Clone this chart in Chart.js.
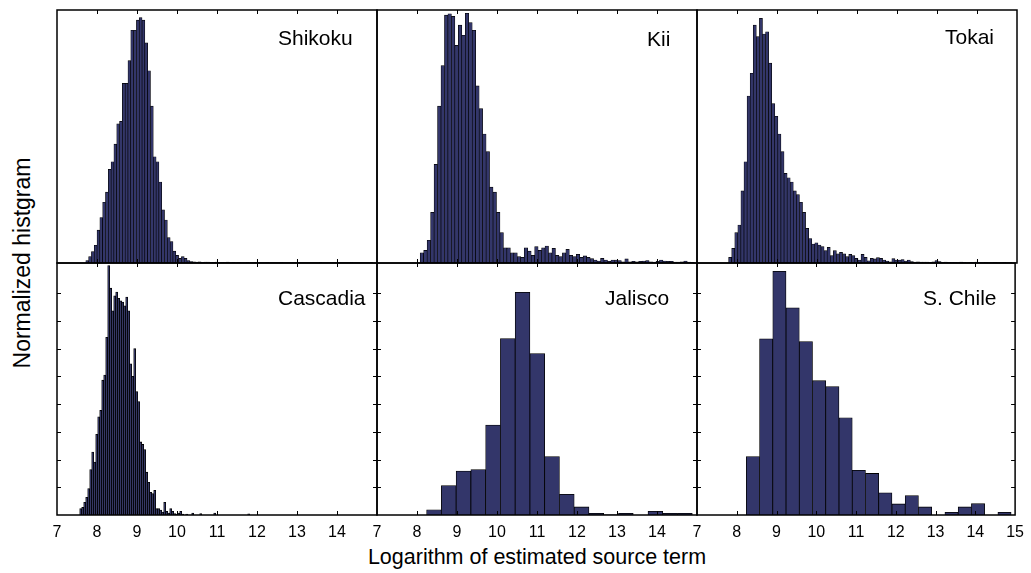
<!DOCTYPE html>
<html>
<head>
<meta charset="utf-8">
<script src="https://cdn.jsdelivr.net/npm/chart.js"></script>
<style>
  html, body { margin: 0; padding: 0; background: #fff; }
  #wrap { position: relative; width: 1031px; height: 573px; overflow: hidden; font-family: "Liberation Sans", Arial, sans-serif; color: #000; }
  #wrap canvas { position: absolute; }
  .name { position: absolute; font-size: 21px; line-height: 21px; white-space: nowrap; }
  #ylab { position: absolute; left: 22px; top: 263px; font-size: 23px; white-space: nowrap; transform: translate(-50%, -50%) rotate(-90deg); }
  #xlab { position: absolute; left: 537px; top: 557px; font-size: 21.5px; white-space: nowrap; transform: translate(-50%, -50%); }
</style>
</head>
<body>
<div id="wrap">
  <div id="ylab">Normalized histgram</div>
  <div id="xlab">Logarithm of estimated source term</div>
</div>
<script>
// panel names, in reading order
const regions = ['Shikoku', 'Kii', 'Tokai', 'Cascadia', 'Jalisco', 'S. Chile'];

// histogram bins: left edge of first bin and bin width (log source term)
const binStart = [7.72, 8.08, 7.79, 7.567, 8.24, 8.24];
const binWidth = [0.0703, 0.0867, 0.077, 0.05, 0.369, 0.333];

// normalized heights
const shikoku = [0.01, 0.025, 0.045, 0.07, 0.13, 0.18, 0.24, 0.28, 0.37, 0.40, 0.47, 0.55, 0.56, 0.71, 0.71,
  0.80, 0.92, 0.92, 0.96, 0.97, 0.96, 0.87, 0.76, 0.62, 0.42, 0.40, 0.32, 0.21, 0.17, 0.10, 0.085, 0.047,
  0.03, 0.018, 0.025, 0.018, 0.01, 0.006,
  0.005, 0.004, 0.005, 0.003, 0.004, 0.004, 0.003, 0.003, 0.004, 0.002, 0.003, 0.003, 0.004, 0.002, 0.003,
  0.002, 0.003, 0.002, 0.002, 0.003, 0.002, 0.002, 0.003, 0.002, 0.002, 0.002, 0.003, 0.002, 0.002, 0.002,
  0.002, 0.003, 0.002, 0.002, 0.002, 0.002, 0.002, 0.003, 0.002, 0.002, 0.002, 0.002, 0.002, 0.002, 0.002,
  0.003, 0.002, 0.002, 0.002, 0.002, 0.002, 0.002, 0.002, 0.002, 0.002, 0.002, 0.003, 0.002, 0.002, 0.002,
  0.002, 0.002, 0.002, 0.002];
const kii = [0.04, 0.05, 0.09, 0.20, 0.39, 0.62, 0.78, 0.98, 0.985, 0.975, 0.86, 0.94, 0.90, 0.987, 0.95,
  0.92, 0.70, 0.61, 0.51, 0.44, 0.30, 0.28, 0.20, 0.12, 0.06, 0.06, 0.04, 0.04, 0.025, 0.022, 0.06, 0.047,
  0.03, 0.065, 0.05, 0.06, 0.067, 0.04, 0.058, 0.03, 0.025, 0.04, 0.054, 0.03,
  0.025, 0.034, 0.022, 0.028, 0.022, 0.017, 0.012, 0.008, 0.018, 0.012, 0.007, 0.012, 0.012, 0.01, 0.005,
  0.016, 0.005, 0.007, 0.005, 0.007, 0.008, 0.01, 0.005, 0.004, 0.007, 0.012, 0.008, 0.007, 0.007, 0.004,
  0.004, 0.005, 0.008, 0.004, 0.003];
const tokai = [0.022, 0.058, 0.12, 0.15, 0.285, 0.40, 0.66, 0.75, 0.94, 0.895, 0.967, 0.905, 0.914, 0.79,
  0.63, 0.58, 0.51, 0.44, 0.354, 0.337, 0.32, 0.285, 0.27, 0.24, 0.20, 0.137, 0.097, 0.075, 0.08, 0.071,
  0.065, 0.049, 0.062, 0.029, 0.049, 0.036, 0.042, 0.036, 0.025, 0.034, 0.029, 0.018, 0.012, 0.034, 0.022,
  0.009, 0.018,
  0.016, 0.021, 0.018, 0.012, 0.008, 0.005, 0.017, 0.012, 0.012, 0.014, 0.008, 0.012, 0.006, 0.004, 0.005,
  0.004, 0.004, 0.004, 0.003, 0.005, 0.01, 0.006, 0.003, 0.004, 0.003, 0.003, 0.003, 0.002, 0.004, 0.003,
  0.002, 0.003, 0.002, 0.004, 0.002, 0.002, 0.003, 0.002, 0.002, 0.003, 0.002, 0.002, 0.003, 0.002, 0.002];
const cascadia = [0.025, 0.03, 0.05, 0.07, 0.105, 0.18, 0.25, 0.21, 0.32, 0.39, 0.415, 0.535, 0.555, 0.705,
  0.99, 0.90, 0.81, 0.87, 0.885, 0.86, 0.85, 0.845, 0.83, 0.865, 0.81, 0.60, 0.55, 0.66, 0.49, 0.45, 0.29,
  0.28, 0.26, 0.17, 0.13, 0.09, 0.085, 0.098, 0.025, 0.025, 0.02, 0.012, 0.05, 0.015, 0.008, 0.025, 0.015,
  0.006, 0.004, 0.008, 0.015, 0.004,
  0, 0.004, 0, 0, 0.008, 0, 0, 0, 0.006, 0, 0, 0, 0, 0, 0, 0.008, 0, 0, 0, 0, 0, 0, 0, 0, 0, 0, 0, 0, 0,
  0, 0, 0, 0.005];
const jalisco = [0.021, 0.117, 0.174, 0.18, 0.357, 0.70, 0.884, 0.641, 0.232, 0.082, 0.032, 0.007, 0.001,
  0.007, 0, 0.015, 0.007, 0.007];
const sChile = [0.232, 0.699, 0.967, 0.822, 0.688, 0.533, 0.51, 0.386, 0.177, 0.165, 0.088, 0.044, 0.077,
  0.032, 0, 0.011, 0.032, 0.045, 0, 0.011];

const hists = [shikoku, kii, tokai, cascadia, jalisco, sChile];
const xMin = 7, xMax = 15;
const yTickStep = 0.11;

// layout of the six frames (px) and where each name sits
const frames = [
  { x: 57, y: 10, w: 320, h: 253 }, { x: 377, y: 10, w: 320, h: 253 }, { x: 697, y: 10, w: 320, h: 253 },
  { x: 57, y: 263, w: 320, h: 252 }, { x: 377, y: 263, w: 320, h: 252 }, { x: 697, y: 263, w: 320, h: 252 }
];
const namePos = [[278, 37], [647, 38], [945, 36], [278, 297], [605, 297], [923, 297]];
const borderW = [0.65, 0.65, 0.65, 0.8, 0.8, 0.8];

const barFill = '#33366a';
const font = '"Liberation Sans", Arial, sans-serif';

// frame box plus inward tick marks, like the original axes
const framePlugin = {
  id: 'frame',
  afterDatasetsDraw(chart, args, opts) {
    const { ctx, chartArea: a, scales: { x, y } } = chart;
    ctx.save();
    ctx.strokeStyle = '#000';
    ctx.lineWidth = 1;
    for (let v = xMin + 1; v < xMax; v++) {
      const px = Math.round(x.getPixelForValue(v)) + 0.5;
      ctx.beginPath();
      ctx.moveTo(px, a.top); ctx.lineTo(px, a.top + 4);
      ctx.moveTo(px, a.bottom); ctx.lineTo(px, a.bottom - 4);
      ctx.stroke();
    }
    if (opts.yTicks) {
      for (let v = yTickStep; v < 0.95; v += yTickStep) {
        const py = Math.round(y.getPixelForValue(v)) + 0.5;
        ctx.beginPath();
        ctx.moveTo(a.left, py); ctx.lineTo(a.left + 4, py);
        ctx.moveTo(a.right, py); ctx.lineTo(a.right - 4, py);
        ctx.stroke();
      }
    }
    ctx.lineWidth = 1.5;
    ctx.strokeRect(a.left, a.top, a.right - a.left, a.bottom - a.top);
    ctx.restore();
  }
};

const wrap = document.getElementById('wrap');

hists.forEach((hist, i) => {
  const f = frames[i];
  const bottomRow = i >= 3;
  const lastCol = i % 3 === 2;
  const padL = 15, padR = 15, padT = 4;
  const padB = bottomRow ? 0 : 4;
  const axisH = bottomRow ? 30 : 0;

  const canvas = document.createElement('canvas');
  canvas.width = f.w + padL + padR;
  canvas.height = f.h + padT + padB + axisH;
  canvas.style.left = (f.x - padL) + 'px';
  canvas.style.top = (f.y - padT) + 'px';
  wrap.appendChild(canvas);

  const points = hist.map((v, k) => ({ x: binStart[i] + (k + 0.5) * binWidth[i], y: v }));

  new Chart(canvas.getContext('2d'), {
    type: 'bar',
    data: {
      datasets: [{
        data: points,
        backgroundColor: barFill,
        borderColor: '#000',
        borderWidth: borderW[i],
        borderSkipped: 'start',
        barPercentage: 1,
        categoryPercentage: 1,
        grouped: false
      }]
    },
    options: {
      responsive: false,
      animation: false,
      events: [],
      layout: { padding: { left: padL, right: padR, top: padT, bottom: padB } },
      plugins: {
        legend: { display: false },
        tooltip: { enabled: false },
        frame: { yTicks: bottomRow }
      },
      scales: {
        x: {
          type: 'linear',
          min: xMin,
          max: xMax,
          offset: false,
          display: bottomRow,
          grid: { display: false, drawTicks: false },
          border: { display: false },
          ticks: {
            stepSize: 1,
            padding: 8,
            maxRotation: 0,
            autoSkip: false,
            color: '#000',
            font: { family: font, size: 16 },
            callback: v => (lastCol || v < xMax) ? String(v) : ''
          },
          afterFit: s => { s.height = axisH; }
        },
        y: { min: 0, max: 1, display: false }
      }
    },
    plugins: [framePlugin]
  });

  const label = document.createElement('div');
  label.className = 'name';
  label.textContent = regions[i];
  label.style.left = namePos[i][0] + 'px';
  label.style.top = (namePos[i][1] - 10) + 'px';
  wrap.appendChild(label);
});
</script>
</body>
</html>
